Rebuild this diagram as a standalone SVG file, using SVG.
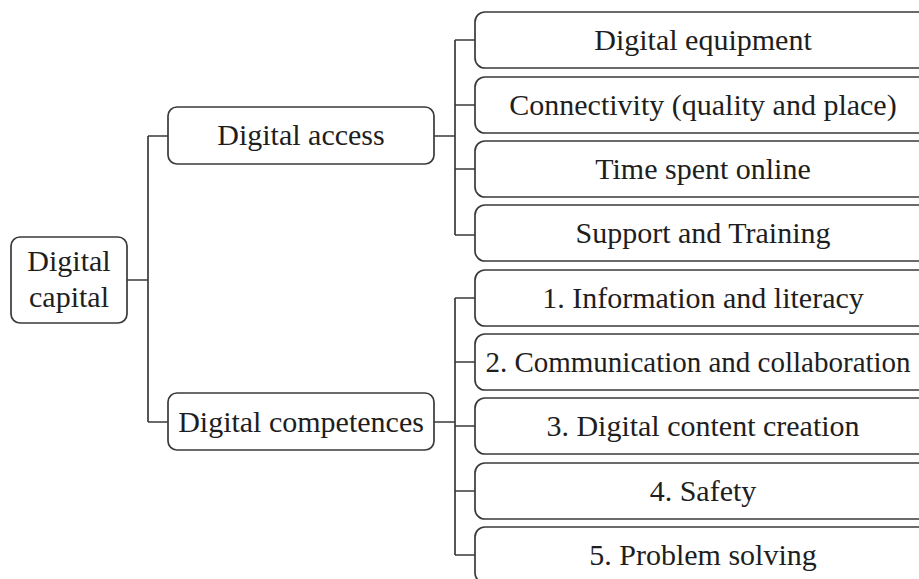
<svg xmlns="http://www.w3.org/2000/svg" width="919" height="579" viewBox="0 0 919 579">
<style>
.box{fill:#fff;stroke:#3a3a3a;stroke-width:1.7}
.t{font-family:"Liberation Serif","Times New Roman",serif;font-size:30px;fill:#1e1e1e;text-anchor:middle}
.c{fill:none;stroke:#3a3a3a;stroke-width:1.7}
</style>
<rect width="919" height="579" fill="#fff"/>
<g id="connectors">
<path class="c" d="M127 280H148M148 136V422M148 136H168M148 422H168"/>
<path class="c" d="M434 136H455M455 40V235M455 40H475M455 105H475M455 169H475M455 235H475"/>
<path class="c" d="M434 422H455M455 298V555M455 298H475M455 362H475M455 426H475M455 491H475M455 555H475"/>
</g>
<g id="digital-capital"><rect class="box" x="11" y="237" width="116" height="86" rx="9"/><text class="t" x="69" y="271">Digital</text><text class="t" x="69" y="307">capital</text></g>
<g id="digital-access"><rect class="box" x="168" y="107" width="266" height="57" rx="9"/><text class="t" x="301" y="145">Digital access</text></g>
<g id="digital-competences"><rect class="box" x="168" y="393" width="266" height="57" rx="9"/><text class="t" x="301" y="432">Digital competences</text></g>
<g id="equipment"><rect class="box" x="475" y="12" width="460" height="56" rx="10"/><text class="t" x="703" y="50">Digital equipment</text></g>
<g id="connectivity"><rect class="box" x="475" y="77" width="460" height="56" rx="10"/><text class="t" x="703" y="115">Connectivity (quality and place)</text></g>
<g id="time"><rect class="box" x="475" y="141" width="460" height="56" rx="10"/><text class="t" x="703" y="179">Time spent online</text></g>
<g id="support"><rect class="box" x="475" y="205" width="460" height="56" rx="10"/><text class="t" x="703" y="243">Support and Training</text></g>
<g id="info"><rect class="box" x="475" y="270" width="460" height="56" rx="10"/><text class="t" x="703" y="308">1. Information and literacy</text></g>
<g id="comm"><rect class="box" x="475" y="334" width="460" height="56" rx="10"/><text class="t" x="698" y="372" style="font-size:29px">2. Communication and collaboration</text></g>
<g id="content"><rect class="box" x="475" y="398" width="460" height="56" rx="10"/><text class="t" x="703" y="436">3. Digital content creation</text></g>
<g id="safety"><rect class="box" x="475" y="463" width="460" height="56" rx="10"/><text class="t" x="703" y="501">4. Safety</text></g>
<g id="problem"><rect class="box" x="475" y="527" width="460" height="56" rx="10"/><text class="t" x="703" y="565">5. Problem solving</text></g>
</svg>
